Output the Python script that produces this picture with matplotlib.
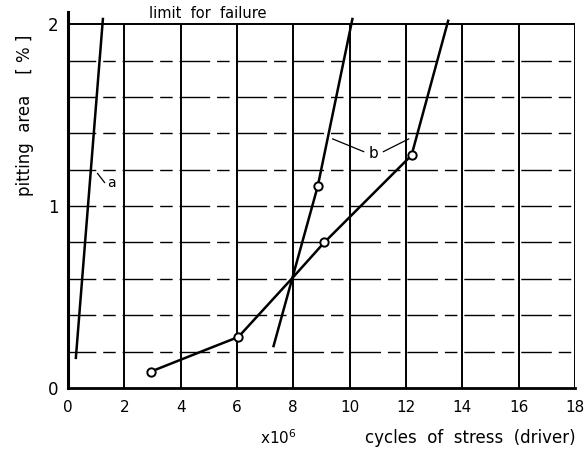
import matplotlib
matplotlib.use("Agg")
import matplotlib.pyplot as plt
import numpy as np

# Curve a (steep line near the origin)
a_x = [0.28, 1.24]
a_y = [0.165, 2.03]

# Curve b, first branch (steep line with one measured point)
b1_x = [7.3, 8.87, 10.1]
b1_y = [0.23, 1.11, 2.03]
b1_marked = [1]

# Curve b, second branch (measured points, then steep rise)
b2_x = [2.95, 4.9, 6.05, 8.0, 9.1, 12.2, 13.5]
b2_y = [0.09, 0.21, 0.28, 0.61, 0.80, 1.28, 2.02]
b2_marked = [0, 2, 4, 5]

x_ticks = [0, 2, 4, 6, 8, 10, 12, 14, 16, 18]
y_ticks = [0, 1, 2]
grid_y = [0.2, 0.4, 0.6, 0.8, 1.0, 1.2, 1.4, 1.6, 1.8]

fig = plt.figure(figsize=(5.86, 4.51), dpi=100)
ax = fig.add_axes([0.116, 0.14, 0.865, 0.834])
ax.set_xlim(0, 18)
ax.set_ylim(0, 2.07)

# grid
ax.vlines(x_ticks[1:], 0, 2, color='black', lw=1.4)
ax.hlines(grid_y, 0, 18, color='black', lw=1.0, linestyles=[(2, (22, 5, 9, 5))])
ax.hlines(2, 0, 18, color='black', lw=1.4)

# curves
ax.plot(a_x, a_y, color='black', lw=1.8)
ax.plot(b1_x, b1_y, color='black', lw=1.8)
ax.plot(b2_x, b2_y, color='black', lw=1.8)
ax.plot(np.array(b1_x)[b1_marked], np.array(b1_y)[b1_marked], 'o', ms=6,
        mfc='white', mec='black', mew=1.4)
ax.plot(np.array(b2_x)[b2_marked], np.array(b2_y)[b2_marked], 'o', ms=6,
        mfc='white', mec='black', mew=1.4)

# labels with leader lines
ax.plot([1.05, 1.3], [1.18, 1.13], color='black', lw=0.9)
ax.text(1.4, 1.13, 'a', fontsize=10, va='center', ha='left')
ax.plot([9.4, 10.5], [1.37, 1.30], color='black', lw=0.9)
ax.plot([11.2, 12.1], [1.30, 1.37], color='black', lw=0.9)
ax.text(10.85, 1.29, 'b', fontsize=11, va='center', ha='center')
ax.text(4.97, 2.06, 'limit  for  failure', fontsize=10.5, ha='center', va='center')

for side in ['top', 'right']:
    ax.spines[side].set_visible(False)
ax.spines['left'].set_linewidth(2.2)
ax.spines['bottom'].set_linewidth(2.0)

ax.set_xticks(x_ticks)
ax.set_yticks(y_ticks)
ax.tick_params(length=0, labelsize=11)
ax.tick_params(axis='x', pad=9)
ax.tick_params(axis='y', pad=7, labelsize=12)

fig.text(0.043, 0.745, 'pitting  area    [ % ]', rotation=90, fontsize=12,
         ha='center', va='center')
fig.text(0.444, 0.029, r'x$10^6$', fontsize=11, ha='left', va='center')
fig.text(0.982, 0.029, 'cycles  of  stress  (driver)', fontsize=12,
         ha='right', va='center')

fig.savefig('out.png', dpi=100)
